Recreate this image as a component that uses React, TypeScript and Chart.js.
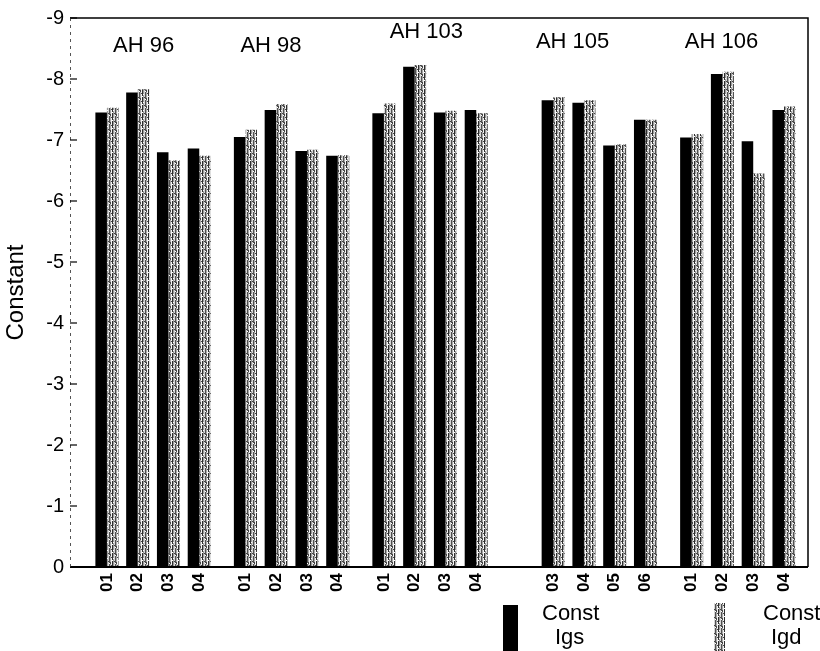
import React, { useEffect, useRef } from 'react';
import { Chart, registerables } from 'chart.js';

Chart.register(...registerables);

// ---------- data ----------
const groupNames = ['AH 96', 'AH 98', 'AH 103', 'AH 105', 'AH 106'];
const sampleLabels = [
  ['01', '02', '03', '04'],
  ['01', '02', '03', '04'],
  ['01', '02', '03', '04'],
  ['03', '04', '05', '06'],
  ['01', '02', '03', '04'],
];
const constIgs = [
  [-7.45, -7.78, -6.8, -6.86],
  [-7.05, -7.49, -6.82, -6.74],
  [-7.44, -8.2, -7.45, -7.49],
  [-7.65, -7.61, -6.91, -7.33],
  [-7.04, -8.08, -6.98, -7.49],
];
const constIgd = [
  [-7.53, -7.83, -6.67, -6.74],
  [-7.17, -7.59, -6.84, -6.75],
  [-7.6, -8.23, -7.48, -7.44],
  [-7.7, -7.65, -6.93, -7.33],
  [-7.1, -8.12, -6.45, -7.55],
];
const yTickValues = [0, -1, -2, -3, -4, -5, -6, -7, -8, -9];
const seriesNames = ['Const Igs', 'Const Igd'];
const yTitle = 'Constant';

// ---------- layout (not data) ----------
const GROUP_GAPS = [0, 1.5, 1.5, 2.5, 1.5];
const LABEL_OFFSETS = [1.19, 0.83, 1.38, 0.63, 0.97];
const LABEL_Y = [-8.55, -8.55, -8.77, -8.61, -8.61];
const FONT = '"Liberation Sans", Arial, Helvetica, sans-serif';

const groupStarts: number[] = [];
{
  let s = 0;
  groupNames.forEach((_, g) => {
    if (g > 0) s += sampleLabels[g - 1].length - 1 + GROUP_GAPS[g];
    groupStarts.push(s);
  });
}
const xValues: number[] = [];
const xLabels: string[] = [];
sampleLabels.forEach((arr, g) =>
  arr.forEach((lab, i) => {
    xValues.push(groupStarts[g] + i);
    xLabels.push(lab);
  })
);
const igsPoints = constIgs.flatMap((arr, g) => arr.map((v, i) => ({ x: groupStarts[g] + i, y: v })));
const igdPoints = constIgd.flatMap((arr, g) => arr.map((v, i) => ({ x: groupStarts[g] + i, y: v })));

function makePattern(ctx: CanvasRenderingContext2D): CanvasPattern | string {
  const c = document.createElement('canvas');
  c.width = 6;
  c.height = 8;
  const p = c.getContext('2d');
  if (!p) return '#999';
  const cols = ['#d6d6d6', '#505050', '#a8a8a8', '#f4f4f4', '#2e2e2e', '#9a9a9a'];
  cols.forEach((col, i) => {
    p.fillStyle = col;
    p.fillRect(i, 0, 1, 8);
  });
  p.fillStyle = '#444';
  p.fillRect(0, 1, 1, 1);
  p.fillRect(3, 5, 1, 1);
  p.fillRect(2, 2, 1, 2);
  p.fillStyle = '#fff';
  p.fillRect(1, 3, 1, 1);
  p.fillRect(5, 6, 1, 1);
  p.fillRect(4, 0, 1, 1);
  return ctx.createPattern(c, 'repeat') || '#999';
}

export default function App() {
  const ref = useRef<HTMLCanvasElement | null>(null);
  useEffect(() => {
    const canvas = ref.current;
    if (!canvas) return;
    const ctx = canvas.getContext('2d');
    if (!ctx) return;
    const pattern = makePattern(ctx);

    const decor = {
      id: 'decor',
      afterDraw(chart: any) {
        const c = chart.ctx;
        const a = chart.chartArea;
        const xs = chart.scales.x;
        const ys = chart.scales.y;
        c.save();
        // frame
        c.strokeStyle = '#000';
        c.lineWidth = 1.5;
        c.beginPath();
        c.moveTo(a.left, a.top);
        c.lineTo(a.right, a.top);
        c.lineTo(a.right, a.bottom);
        c.stroke();
        c.lineWidth = 2;
        c.beginPath();
        c.moveTo(a.left, a.bottom);
        c.lineTo(a.right, a.bottom);
        c.stroke();
        c.lineWidth = 1;
        c.strokeStyle = '#555';
        c.setLineDash([3, 4]);
        c.beginPath();
        c.moveTo(a.left + 0.5, a.top);
        c.lineTo(a.left + 0.5, a.bottom);
        c.stroke();
        c.setLineDash([]);
        // inward y ticks
        c.strokeStyle = '#000';
        c.lineWidth = 1.2;
        yTickValues.forEach((v) => {
          const y = ys.getPixelForValue(v);
          c.beginPath();
          c.moveTo(a.left, y);
          c.lineTo(a.left + 7, y);
          c.stroke();
        });
        // group labels
        c.fillStyle = '#000';
        c.font = `22px ${FONT}`;
        c.textAlign = 'center';
        c.textBaseline = 'middle';
        groupNames.forEach((name, g) => {
          const x = xs.getPixelForValue(groupStarts[g] + LABEL_OFFSETS[g]);
          const y = ys.getPixelForValue(LABEL_Y[g]);
          c.fillText(name, x, y);
        });
        // legend
        c.fillStyle = '#000';
        c.fillRect(503, 605, 15, 46);
        c.fillStyle = pattern;
        c.fillRect(714, 603, 11, 48);
        c.fillStyle = '#000';
        c.textAlign = 'left';
        const [n1, n2] = seriesNames.map((s) => s.split(' '));
        c.fillText(n1[0], 542, 614);
        c.fillText(n1[1], 555, 638);
        c.fillText(n2[0], 763, 614);
        c.fillText(n2[1], 771, 638);
        c.restore();
      },
    };

    const chart = new Chart(ctx, {
      type: 'bar',
      data: {
        datasets: [
          { label: seriesNames[0], data: igsPoints, backgroundColor: '#000', borderWidth: 0 },
          { label: seriesNames[1], data: igdPoints, backgroundColor: pattern as any, borderWidth: 0 },
        ],
      },
      options: {
        animation: false,
        responsive: true,
        maintainAspectRatio: false,
        events: [],
        layout: { padding: { top: 17, right: 12, left: 0, bottom: 0 } },
        datasets: { bar: { categoryPercentage: 0.75, barPercentage: 1 } },
        plugins: { legend: { display: false }, tooltip: { enabled: false }, title: { display: false } },
        scales: {
          x: {
            type: 'linear',
            offset: false,
            min: -1.2,
            max: 22.78,
            grid: { display: false, drawTicks: false },
            border: { display: false },
            afterBuildTicks: (scale: any) => {
              scale.ticks = xValues.map((v) => ({ value: v }));
            },
            afterFit: (scale: any) => {
              scale.height = 84;
            },
            ticks: {
              autoSkip: false,
              minRotation: 90,
              maxRotation: 90,
              padding: 6,
              color: '#000',
              font: { family: FONT, size: 17, weight: 'bold' },
              callback: (_v: any, i: number) => xLabels[i],
            },
          },
          y: {
            type: 'linear',
            reverse: true,
            min: -9,
            max: 0,
            grid: { display: false, drawTicks: false },
            border: { display: false },
            afterBuildTicks: (scale: any) => {
              scale.ticks = yTickValues.map((v) => ({ value: v }));
            },
            afterFit: (scale: any) => {
              scale.width = 70;
            },
            title: {
              display: true,
              text: yTitle,
              color: '#000',
              font: { family: FONT, size: 24 },
              padding: { top: 2, bottom: 0 },
            },
            ticks: {
              padding: 6,
              color: '#000',
              font: { family: FONT, size: 20 },
              callback: (v: any) => String(v),
            },
          },
        },
      },
      plugins: [decor],
    } as any);
    return () => chart.destroy();
  }, []);

  return (
    <div style={{ position: 'fixed', left: 0, top: 0, width: 820, height: 651, background: '#fff' }}>
      <canvas ref={ref} />
    </div>
  );
}
